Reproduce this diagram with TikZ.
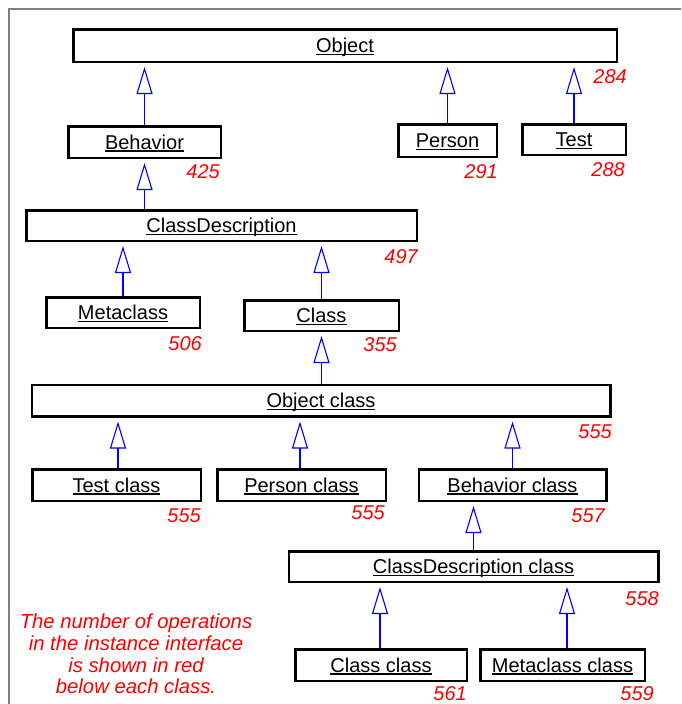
\documentclass[tikz,border=0pt]{standalone}
\usepackage{fontspec}
\setmainfont{Liberation Sans}
\usetikzlibrary{arrows.meta}
\newsavebox{\ulbox}
\newcommand{\uname}[1]{\sbox{\ulbox}{#1}\rlap{\rule[-2.6pt]{\wd\ulbox}{1.3pt}}\usebox{\ulbox}}

\begin{document}
\begin{tikzpicture}[x=1pt, y=-1pt]
            \tikzstyle{cls}=[draw, rectangle, line width=2.5pt, inner sep=0pt, text height=14.3pt, text depth=0pt, font=\fontsize{20}{24}\selectfont]
            \tikzstyle{ops}=[anchor=east, inner sep=0pt, text=red, font=\fontsize{20}{24}\selectfont\itshape]
            \tikzstyle{inh}=[blue, line width=1.1pt, -{Triangle[open, length=27pt, width=16pt]}, shorten >=4pt]
            \useasboundingbox (0,0) rectangle (681,704);
            \draw[black!50, line width=1.2pt] (9,704) -- (9,9) -- (681,9);

            \node[cls, minimum width=543.5pt, minimum height=32.5pt] (obj)  at (345,45.5)  {\uname{Object}};
            \node[cls, minimum width=152.5pt, minimum height=31.5pt] (beh)  at (144.5,142) {\uname{Behavior}};
            \node[cls, minimum width=98.5pt,  minimum height=32.5pt] (per)  at (447.5,140.5) {\uname{Person}};
            \node[cls, minimum width=103.5pt, minimum height=30.5pt] (tst)  at (574,139.5) {\uname{Test}};
            \node[cls, minimum width=390.5pt, minimum height=30.5pt] (cd)   at (221.5,225.5) {\uname{ClassDescription}};
            \node[cls, minimum width=153.5pt, minimum height=30.5pt] (meta) at (123,312.5) {\uname{Metaclass}};
            \node[cls, minimum width=154.5pt, minimum height=30.5pt] (cls)  at (321.5,315.5) {\uname{Class}};
            \node[cls, minimum width=578.5pt, minimum height=31.5pt] (objc) at (321,400.5) {\uname{Object class}};
            \node[cls, minimum width=168.5pt, minimum height=31.5pt] (tstc) at (116.5,485) {\uname{Test class}};
            \node[cls, minimum width=168.5pt, minimum height=31.5pt] (perc) at (301.5,485) {\uname{Person class}};
            \node[cls, minimum width=187.5pt, minimum height=31.5pt] (behc) at (512.5,485) {\uname{Behavior class}};
            \node[cls, minimum width=369.5pt, minimum height=30.5pt] (cdc)  at (473.5,566.5) {\uname{ClassDescription class}};
            \node[cls, minimum width=171.5pt, minimum height=31.5pt] (clsc) at (381,665) {\uname{Class class}};
            \node[cls, minimum width=164.5pt, minimum height=31.5pt] (metac) at (562.5,665) {\uname{Metaclass class}};

            \node[ops] (objn)  at (627,77)  {284};
            \node[ops] (behn)  at (220,172) {425};
            \node[ops] (pern)  at (498,172) {291};
            \node[ops] (tstn)  at (625,170) {288};
            \node[ops] (cdn)   at (418,257) {497};
            \node[ops] (metan) at (202,344) {506};
            \node[ops] (clsn)  at (397,345) {355};
            \node[ops] (objcn) at (612,432) {555};
            \node[ops] (tstcn) at (201,516) {555};
            \node[ops] (percn) at (385,513) {555};
            \node[ops] (behcn) at (605,516) {557};
            \node[ops] (cdcn)  at (659,599) {558};
            \node[ops] (clscn) at (467,693.5) {561};
            \node[ops] (metacn) at (654,693.5) {559};

            \node[text=red, align=center, inner sep=0pt, font=\fontsize{20.3}{21.6}\selectfont\itshape] (note) at (136,654)
                {The number of operations\\in the instance interface\\is shown in red\\below each class.};

            \draw[inh] (beh.north) -- (beh.north |- obj.south);
            \draw[inh] (per.north) -- (per.north |- obj.south);
            \draw[inh] (tst.north) -- (tst.north |- obj.south);

            \draw[inh] (cd.north -| beh) -- (beh.south);

            \draw[inh] (meta.north) -- (meta.north |- cd.south);
            \draw[inh] (cls.north) -- (cls.north |- cd.south);

            \draw[inh] (objc.north -| cls) -- (cls.south);

            \draw[inh] ([xshift=1.5pt]tstc.north) -- ([xshift=1.5pt]tstc.north |- objc.south);
            \draw[inh] ([xshift=-1.5pt]perc.north) -- ([xshift=-1.5pt]perc.north |- objc.south);
            \draw[inh] (behc.north) -- (behc.north |- objc.south);

            \draw[inh] (cdc.north) -- (cdc.north |- behc.south);

            \draw[inh] ([xshift=-1pt]clsc.north) -- ([xshift=-1pt]clsc.north |- cdc.south);
            \draw[inh] ([xshift=4.5pt]metac.north) -- ([xshift=4.5pt]metac.north |- cdc.south);
\end{tikzpicture}
\end{document}
